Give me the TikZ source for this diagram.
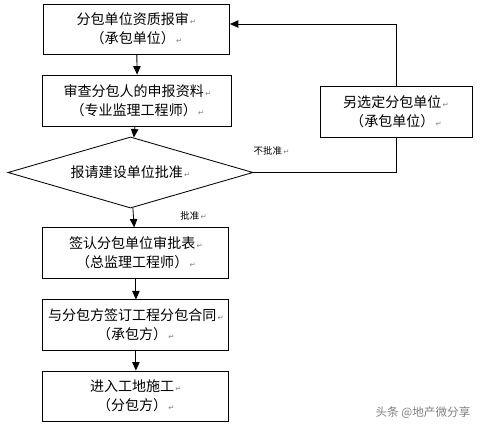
\documentclass[tikz,border=0pt]{standalone}
\usepackage{fontspec}
\usepackage{tikz}
\usetikzlibrary{shapes.geometric,arrows.meta}
\setmainfont{Noto Sans CJK SC}
\newfontfamily\symfont{DejaVu Sans}
\newcommand{\rt}{{\symfont\fontsize{7}{7}\selectfont\color{gray}\,↵}}

\tikzset{
  box/.style={draw=black,line width=0.8pt,minimum width=6.2cm,minimum height=1.67cm,align=center,inner sep=2pt},
  cond/.style={draw=black,line width=0.8pt,diamond,aspect=3.45,minimum width=8.17cm,minimum height=2.37cm,inner sep=0pt},
  flow/.style={line width=0.8pt,-{Triangle[length=8pt,width=7pt]}},
  back/.style={line width=0.8pt},
}

\begin{document}
\begin{tikzpicture}[font=\fontsize{13.3}{18}\selectfont]
      \useasboundingbox (0,0) rectangle (16,-14.433);

      \node[box] (a) at (4.55,-0.97){分包单位资质报审\rt\\（承包单位）\rt};
      \node[box,minimum width=6.3cm,minimum height=1.7cm] (b) at (4.58,-3.35){审查分包人的申报资料\rt\\（专业监理工程师）\rt};
      \node[cond] (c) at (4.35,-5.75){报请建设单位批准\rt};
      \node[box] (d) at (4.53,-8.43){签认分包单位审批表\rt\\（总监理工程师）\rt};
      \node[box] (e) at (4.53,-10.83){与分包方签订工程分包合同\rt\\（承包方）\rt};
      \node[box] (f) at (4.53,-13.2){进入工地施工\rt\\（分包方）\rt};
      
      \node[box,minimum width=5.07cm,minimum height=1.7cm] (g) at (13.2,-3.73){另选定分包单位\rt\\（承包单位）\rt};
      
      \node[font=\fontsize{9}{9}\selectfont] (no) at (9.05,-5.02){不批准\rt};
      \node[font=\fontsize{9}{9}\selectfont] (yes) at (6.45,-7.2){批准\rt};
      \node[font=\fontsize{11}{11}\selectfont,text=gray] (wm) at (14.1,-13.75){头条 @地产微分享};
      
      \coordinate (up) at (13.2,-0.8);
      
      \draw[flow] (a) -- (b);
      \draw[flow] (b) -- (c);
      \draw[flow] (c) -- (d);
      \draw[flow] (d) -- (e);
      \draw[flow] (e) -- (f);
      \draw[back] (c.east) -| (g.south);
      \draw[flow] (g.north) -- (up) -- (a.east |- up);
    \end{tikzpicture}
\end{document}
